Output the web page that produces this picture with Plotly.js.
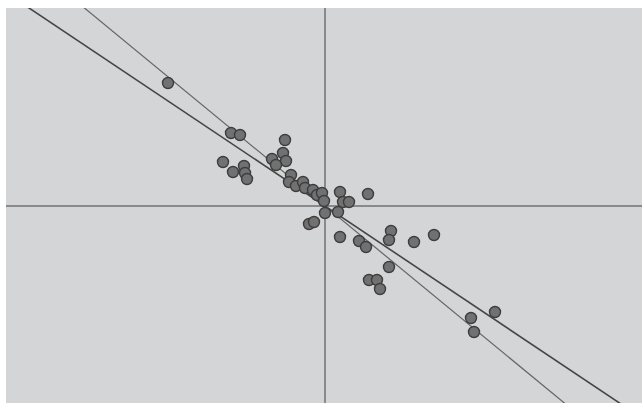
<!DOCTYPE html>
<html>
<head>
<meta charset="utf-8">
<script src="https://cdn.plot.ly/plotly-3.0.1.min.js"></script>
<style>
  html, body { margin: 0; padding: 0; background: #ffffff; }
  #chart { width: 642px; height: 403px; }
</style>
</head>
<body>
<div id="chart"></div>
<script>
// Observations (standardised scores)
const xValues = [-1.57, -0.94, -0.85, -0.40, -0.42, -0.39, -0.53, -0.49, -1.02, -0.92,
                 -0.81, -0.80, -0.78, -0.34, -0.36, -0.29, -0.22, -0.20, -0.12, -0.08,
                 -0.03, -0.01, 0.15, 0.18, 0.24, 0.43, 0.00, 0.13, -0.16, -0.11,
                 0.15, 0.34, 0.41, 0.66, 0.64, 0.89, 1.09, 0.64, 0.44, 0.52,
                 0.55, 1.70, 1.46, 1.49];
const yValues = [1.23, 0.73, 0.71, 0.66, 0.53, 0.45, 0.47, 0.41, 0.44, 0.34,
                 0.40, 0.33, 0.27, 0.31, 0.24, 0.20, 0.24, 0.18, 0.16, 0.11,
                 0.13, 0.05, 0.14, 0.04, 0.04, 0.12, -0.07, -0.06, -0.18, -0.16,
                 -0.31, -0.35, -0.41, -0.25, -0.34, -0.36, -0.29, -0.61, -0.74, -0.74,
                 -0.83, -1.06, -1.12, -1.26];

// Two fitted lines through the origin
const fitSlopes = [-0.669, -0.823];
const fitColors = ['#454545', '#656565'];
const fitWidths = [1.6, 1.2];

const xRange = [-3.19, 3.17];
const yRange = [-1.97, 1.98];

const traces = fitSlopes.map((m, i) => ({
  type: 'scatter',
  mode: 'lines',
  x: xRange,
  y: xRange.map(x => m * x),
  line: { color: fitColors[i], width: fitWidths[i] },
  hoverinfo: 'skip',
  showlegend: false
}));

traces.push({
  type: 'scatter',
  mode: 'markers',
  x: xValues,
  y: yValues,
  marker: {
    size: 11,
    color: '#717171',
    line: { color: '#3d3d3d', width: 1.4 }
  },
  showlegend: false
});

const axisCommon = {
  showgrid: false,
  showline: false,
  showticklabels: false,
  ticks: '',
  zeroline: true,
  zerolinecolor: '#8a8a8a',
  zerolinewidth: 2,
  fixedrange: true
};

const layout = {
  width: 642,
  height: 403,
  margin: { l: 6, r: 0, t: 8, b: 0, pad: 0 },
  paper_bgcolor: '#ffffff',
  plot_bgcolor: '#d4d5d7',
  xaxis: Object.assign({ range: xRange }, axisCommon),
  yaxis: Object.assign({ range: yRange }, axisCommon),
  showlegend: false
};

Plotly.newPlot('chart', traces, layout, { displayModeBar: false, staticPlot: true });
</script>
</body>
</html>
